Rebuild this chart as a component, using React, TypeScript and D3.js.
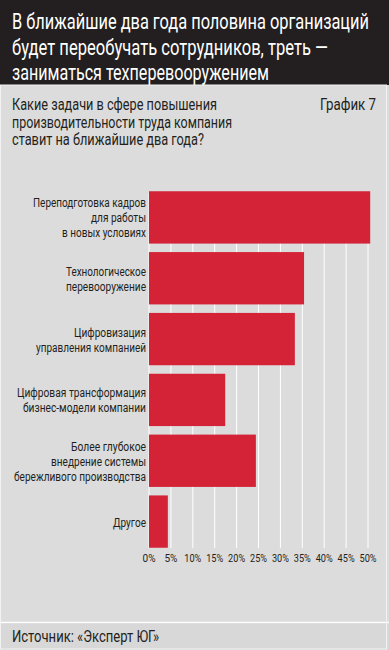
import * as d3 from 'd3'

const W = 389
const H = 650

const titleLines = [
  'В ближайшие два года половина организаций',
  'будет переобучать сотрудников, треть —',
  'заниматься техперевооружением',
]
const questionLines = [
  'Какие задачи в сфере повышения',
  'производительности труда компания',
  'ставит на ближайшие два года?',
]
const chartNo = 'График 7'
const source = 'Источник: «Эксперт ЮГ»'

const categories = [
  ['Переподготовка кадров', 'для работы', 'в новых условиях'],
  ['Технологическое', 'перевооружение'],
  ['Цифровизация', 'управления компанией'],
  ['Цифровая трансформация', 'бизнес-модели компании'],
  ['Более глубокое', 'внедрение системы', 'бережливого производства'],
  ['Другое'],
]
const values = [50.5, 35.4, 33.3, 17.4, 24.4, 4.3]
const ticks = [0, 5, 10, 15, 20, 25, 30, 35, 40, 45, 50]

// the original uses a condensed face; none is installed, so texts are squeezed to the measured widths
const FONT = 'Roboto, "DejaVu Sans", sans-serif'
const RED = '#d42236'
const INK = '#231f20'

const titleW = [357, 316, 257]
const questionW = [205, 220, 192]
const labelW: Record<string, number> = {
  'Переподготовка кадров': 113,
  'для работы': 55,
  'в новых условиях': 84,
  'Технологическое': 80,
  'перевооружение': 80,
  'Цифровизация': 72,
  'управления компанией': 110,
  'Цифровая трансформация': 129,
  'бизнес-модели компании': 123,
  'Более глубокое': 75,
  'внедрение системы': 95,
  'бережливого производства': 132,
  'Другое': 33,
}

export default function App() {
  const x = d3.scaleLinear().domain([0, 50]).range([149, 368])
  const y = d3
    .scaleBand<number>()
    .domain(d3.range(categories.length))
    .range([187, 552])
    .paddingInner(0.14)
    .paddingOuter(0.07)

  return (
    <svg
      width={W}
      height={H}
      style={{ display: 'block', position: 'absolute', left: 0, top: 0 }}
      fontFamily={FONT}
    >
      <rect x={0} y={0} width={W} height={H} fill="#dcdcdc" />
      {/* title band */}
      <rect x={0} y={0} width={W} height={85} fill={INK} />
      {titleLines.map((t, i) => (
        <text
          key={i}
          x={12}
          y={29 + i * 25.5}
          fill="#fff"
          fontSize={22}
          textLength={titleW[i]}
          lengthAdjust="spacingAndGlyphs"
        >
          {t}
        </text>
      ))}

      {questionLines.map((t, i) => (
        <text
          key={i}
          x={12}
          y={110 + i * 17.5}
          fill={INK}
          fontSize={16}
          textLength={questionW[i]}
          lengthAdjust="spacingAndGlyphs"
        >
          {t}
        </text>
      ))}
      <text x={320} y={110} fill={INK} fontSize={16} textLength={56} lengthAdjust="spacingAndGlyphs">
        {chartNo}
      </text>

      {/* grid */}
      {ticks.map((t) => {
        const s = `${t}%`
        const tw = s.length === 2 ? 13 : 17
        return (
          <g key={t}>
            <line x1={x(t)} x2={x(t)} y1={193} y2={548} stroke="#fff" strokeWidth={1} />
            <text
              x={x(t) - tw / 2}
              y={562}
              fontSize={11}
              fill={INK}
              textLength={tw}
              lengthAdjust="spacingAndGlyphs"
            >
              {s}
            </text>
          </g>
        )
      })}

      {/* bars */}
      {values.map((v, i) => {
        const by = y(i) as number
        const bh = y.bandwidth()
        const lines = categories[i]
        const cy = by + bh / 2
        const lh = 15
        return (
          <g key={i}>
            <rect x={x(0)} y={by} width={x(v) - x(0)} height={bh} fill={RED} />
            {lines.map((l, j) => (
              <text
                key={j}
                x={146 - labelW[l]}
                y={cy + (j - (lines.length - 1) / 2) * lh + 5}
                fontSize={12.5}
                fill={INK}
                textLength={labelW[l]}
                lengthAdjust="spacingAndGlyphs"
              >
                {l}
              </text>
            ))}
          </g>
        )
      })}

      {/* footer */}
      <line x1={0} x2={W} y1={622.5} y2={622.5} stroke="#fff" strokeWidth={1.5} />
      <rect x={0} y={623.5} width={W} height={26.5} fill="#d8d8d8" />
      <text x={12} y={642} fontSize={16} fill={INK} textLength={147} lengthAdjust="spacingAndGlyphs">
        {source}
      </text>
      <rect
        x={0.5}
        y={85}
        width={W - 3}
        height={H - 86}
        fill="none"
        stroke="#f2f2f2"
        strokeWidth={1}
      />
    </svg>
  )
}
